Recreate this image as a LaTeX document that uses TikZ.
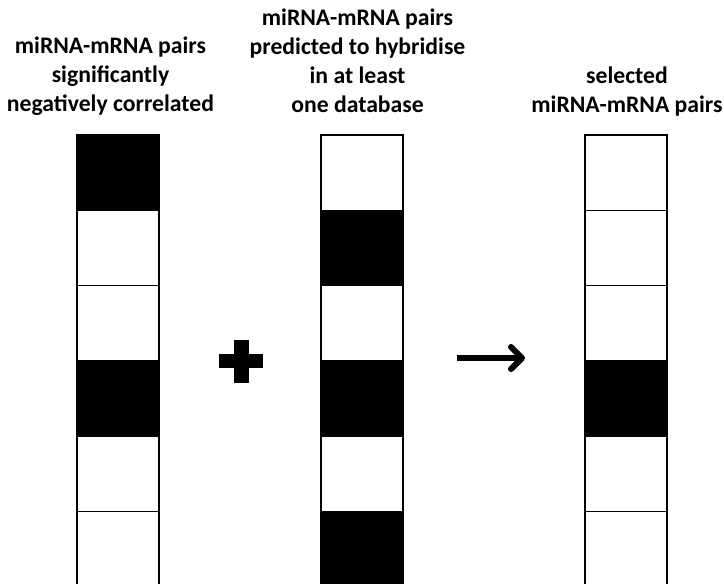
\documentclass[tikz,border=0pt]{standalone}
\usepackage{fontspec}
\setmainfont{Carlito}
\usetikzlibrary{arrows.meta}
\tikzset{
  cell/.style={draw=black, line width=1.3pt, minimum width=82pt, minimum height=75.3pt, inner sep=0pt, outer sep=0pt, fill=white},
  blk/.style={cell, fill=black},
  lbl/.style={align=center, inner sep=0pt, font=\fontsize{23.7}{29}\selectfont\bfseries},
}
\begin{document}
\begin{tikzpicture}[x=1pt, y=-1pt]
\useasboundingbox (0,0) rectangle (724,584);
\clip (0,0) rectangle (724,584);
% columns
\foreach \i/\s in {0/blk,1/cell,2/cell,3/blk,4/cell,5/cell} {
  \node[\s] (L\i) at (118, {135+37.65+75.3*\i}) {};
}
\foreach \i/\s in {0/cell,1/blk,2/cell,3/blk,4/cell,5/blk} {
  \node[\s] (M\i) at (362, {135+37.65+75.3*\i}) {};
}
\foreach \i/\s in {0/cell,1/cell,2/cell,3/blk,4/cell,5/cell} {
  \node[\s] (R\i) at (626, {135+37.65+75.3*\i}) {};
}
% labels
\node[lbl, anchor=base] (tl) at (110.5, 111.5) {miRNA-mRNA pairs\\significantly\\negatively correlated};
\node[lbl, anchor=base] (tm) at (357.5, 112) {miRNA-mRNA pairs\\predicted to hybridise\\in at least\\one database};
\node[lbl, anchor=base] (tr) at (627, 112) {selected\\miRNA-mRNA pairs};
% plus
\fill[black] (219,354) rectangle (263,368);
\fill[black] (233.5,340) rectangle (248.5,383);
% arrow
\coordinate (a1) at (457,358);
\coordinate (a2) at (525,358);
\draw[line width=6pt, -{Straight Barb[length=11pt, width=22pt, line cap=round, line join=round]}] (a1) -- (a2);
\end{tikzpicture}
\end{document}
